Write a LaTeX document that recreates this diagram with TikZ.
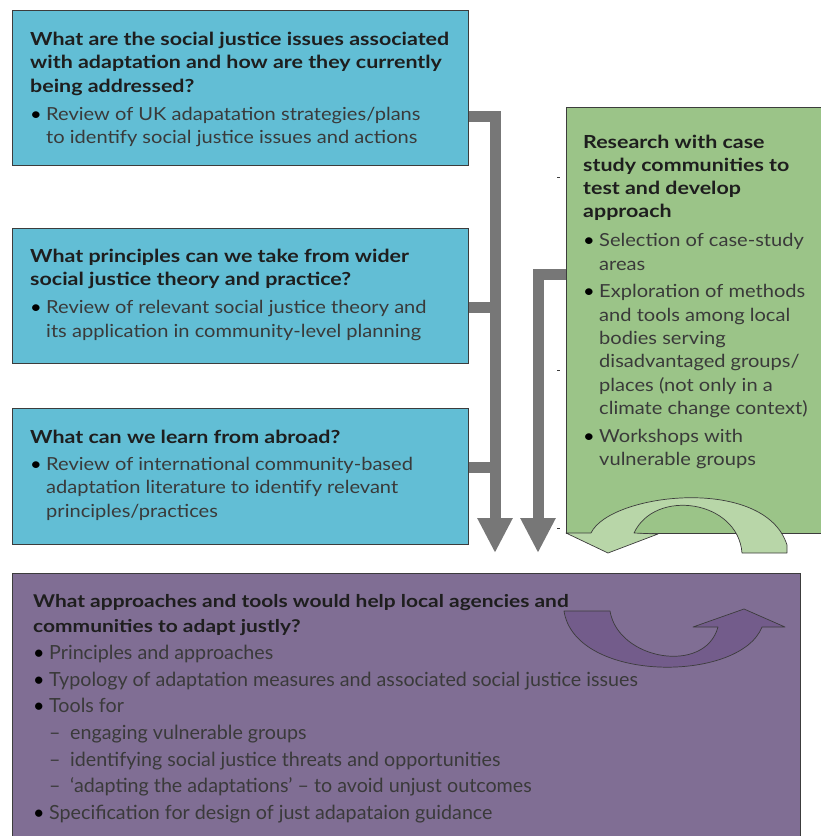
\documentclass[tikz,border=0pt]{standalone}
\usepackage{fontspec}
\setmainfont{Lato}[FakeStretch=1.115]
\newfontfamily\headfont{Lato}[FakeStretch=1.19]
\newfontfamily\condfont{Lato}[FakeStretch=1.01]
\usetikzlibrary{arrows.meta,calc}
\definecolor{boxblue}{HTML}{62BED5}
\definecolor{boxgreen}{HTML}{9BC488}
\definecolor{boxpurple}{HTML}{806E94}
\definecolor{arrowgray}{HTML}{777777}
\definecolor{arrowgreen}{HTML}{B8D6A8}
\definecolor{arrowpurple}{HTML}{735C8B}
\definecolor{edgecol}{HTML}{3C3C3C}
\definecolor{headtext}{HTML}{1E1E1E}
\definecolor{bodytext}{HTML}{3A3A3A}
\newcommand{\hd}[1]{{\headfont\bfseries\color{headtext}#1}}
\newcommand{\bl}{\makebox[16pt][l]{\color{black}\textbullet}}
\newcommand{\ind}{\hspace*{16pt}}
\newcommand{\sbl}{\makebox[16pt][l]{\color{black}\textbullet}}
\newcommand{\sdash}{\hspace*{16pt}\makebox[21pt][l]{–}}
\tikzset{
  panel/.style={draw=edgecol, line width=1pt, anchor=north west, inner sep=0pt},
  bluepanel/.style={panel, fill=boxblue, minimum width=456pt, minimum height=155pt},
  greenpanel/.style={panel, fill=boxgreen, minimum width=270pt, minimum height=426pt},
  purplepanel/.style={panel, fill=boxpurple, minimum width=788pt, minimum height=280pt},
  txt/.style={anchor=north west, inner sep=0pt, align=left, text=bodytext,
    font=\fontsize{18}{23.5}\selectfont},
  ptxt/.style={anchor=north west, inner sep=0pt, align=left, text=bodytext,
    font=\condfont\fontsize{19.5}{26.7}\selectfont},
  grayflow/.style={draw=arrowgray, line width=11pt, line join=miter,
    -{Triangle[width=33pt,length=35pt]}},
  curvegreen/.style={fill=arrowgreen, draw=edgecol, line width=0.7pt, line join=round},
  curvepurple/.style={fill=arrowpurple, draw=edgecol, line width=0.7pt, line join=round},
  tick/.style={draw=edgecol, line width=0.5pt}
}
\begin{document}
\begin{tikzpicture}[x=1pt,y=-1pt]
\useasboundingbox (0,0) rectangle (821,836);
\begin{scope}
\clip (0,0) rectangle (821,836);
% panels
\node[bluepanel] (b1) at (12,10) {};
\node[bluepanel, minimum height=135pt] (b2) at (12,228) {};
\node[bluepanel, minimum height=136pt] (b3) at (12,408) {};
\node[greenpanel] (g) at (566,107) {};
\node[purplepanel] (p) at (12,573) {};

% texts
\node[txt] (t1) at (30,31.5) {\hd{What are the social justice issues associated}\\
\hd{with adaptation and how are they currently}\\
\hd{being addressed?}\\[4.5pt]
\bl Review of UK adapatation strategies/plans\\
\ind to identify social justice issues and actions};

\node[txt] (t2) at (30,248.5) {\hd{What principles can we take from wider}\\
\hd{social justice theory and practice?}\\[4.5pt]
\bl Review of relevant social justice theory and\\
\ind its application in community-level planning};

\node[txt] (t3) at (30,429.5) {\hd{What can we learn from abroad?}\\[3.5pt]
\bl Review of international community-based\\
\ind adaptation literature to identify relevant\\
\ind principles/practices};

\node[txt, font=\fontsize{18}{23.3}\selectfont] (tg) at (583,134.5) {\hd{Research with case}\\
\hd{study communities to}\\
\hd{test and develop}\\
\hd{approach}\\[5.5pt]
\bl Selection of case-study\\
\ind areas\\[4.5pt]
\bl Exploration of methods\\
\ind and tools among local\\
\ind bodies serving\\
\ind disadvantaged groups/\\
\ind places (not only in a\\
\ind climate change context)\\[4.5pt]
\bl Workshops with\\
\ind vulnerable groups};

\node[ptxt] (tp) at (33,594.5) {{\fontsize{17.6}{25}\selectfont\hd{What approaches and tools would help local agencies and}}\\[-1.7pt]
{\fontsize{17.6}{25}\selectfont\hd{communities to adapt justly?}}\\
\sbl Principles and approaches\\
\sbl Typology of adaptation measures and associated social justice issues\\
\sbl Tools for\\
\sdash engaging vulnerable groups\\
\sdash identifying social justice threats and opportunities\\
\sdash ‘adapting the adaptations’ – to avoid unjust outcomes\\
\sbl Specification for design of just adapataion guidance};

% gray flow arrows
\coordinate (j1) at (495,116.5);
\coordinate (j2) at (495,307.5);
\coordinate (j3) at (495,467.5);
\coordinate (e1) at (495,553);
\coordinate (k1) at (538,274);
\coordinate (e2) at (538,553);
\draw[grayflow] (b1.east |- j1) -- (j1) -- (e1);
\draw[draw=arrowgray, line width=11pt] (b2.east |- j2) -- (j2);
\draw[draw=arrowgray, line width=11pt] (b3.east |- j3) -- (j3);
\draw[grayflow] (g.west |- k1) -- (k1) -- (e2);

% tiny ticks
\coordinate (m1) at (557,177.5);
\coordinate (m2) at (557,370);
\coordinate (m3) at (557,528);
\draw[tick] (m1) -- ++(2.5,0);
\draw[tick] (m2) -- ++(2.5,0);
\draw[tick] (m3) -- ++(2.5,0);

% curved green arrow
\draw[curvegreen] (591,533) .. controls (610,493) and (765,475) .. (787,545)
  -- (787,553) -- (742,553) .. controls (738,500) and (655,488) .. (634,533)
  -- (658,534) -- (608,553) -- (566,533) -- cycle;

% curved purple arrow
\draw[curvepurple] (564,611) -- (610,611) .. controls (618,660) and (705,675) .. (718,627)
  -- (693,627) -- (744,609) -- (785,627) -- (762,627)
  .. controls (740,683) and (575,683) .. (564,611) -- cycle;
\end{scope}
\end{tikzpicture}
\end{document}
